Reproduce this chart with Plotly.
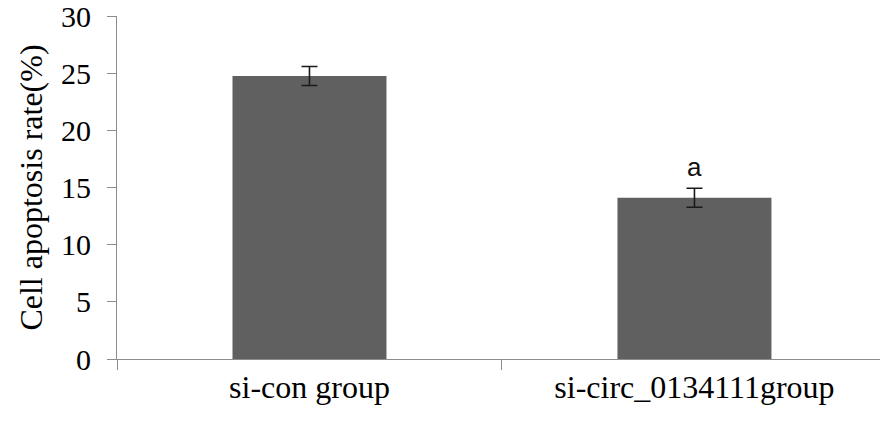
import plotly.graph_objects as go

categories = ["si-con group", "si-circ_0134111group"]
values = [24.75, 14.1]
errors = [0.83, 0.83]
sig_labels = ["", "a"]
y_ticks = [0, 5, 10, 15, 20, 25, 30]

SERIF = "Liberation Serif, Times New Roman, serif"

fig = go.Figure()
fig.add_trace(go.Bar(
    x=categories, y=values,
    marker=dict(color="#606060", line=dict(width=0)),
    error_y=dict(type="data", array=errors, color="#1a1a1a", thickness=1.6, width=8),
    width=0.4,
))

for c, v, e, s in zip(categories, values, errors, sig_labels):
    if s:
        fig.add_annotation(x=c, y=v + e, text=s, showarrow=False, yanchor="bottom",
                           yshift=4, font=dict(family="Liberation Sans, Arial", size=26, color="#111"))

fig.update_layout(
    width=880, height=424,
    margin=dict(l=117, r=0, t=16, b=65),
    plot_bgcolor="white", paper_bgcolor="white",
    showlegend=False,
    font=dict(family=SERIF, size=30, color="black"),
)
fig.update_xaxes(
    range=[-0.5, 1.482], automargin=False,
    showline=True, linecolor="#8c8c8c", linewidth=1,
    ticks="outside", ticklen=10, tickcolor="#8c8c8c", tickson="boundaries",
    showgrid=False, zeroline=False, ticklabeloverflow="allow",
    tickfont=dict(family=SERIF, size=32, color="black"),
)
fig.update_yaxes(
    range=[0, 30], tickvals=y_ticks, automargin=False,
    showline=True, linecolor="#8c8c8c", linewidth=1,
    ticks="outside", ticklen=9, tickcolor="#8c8c8c", ticklabelstandoff=10,
    showgrid=False, zeroline=False, ticklabeloverflow="allow",
    title=dict(text="Cell apoptosis rate(%)", standoff=8,
               font=dict(family=SERIF, size=32, color="black")),
    tickfont=dict(family=SERIF, size=30, color="black"),
)

fig.write_html("out.html", config={"displayModeBar": False},
               post_script="document.body.style.margin='0';")
